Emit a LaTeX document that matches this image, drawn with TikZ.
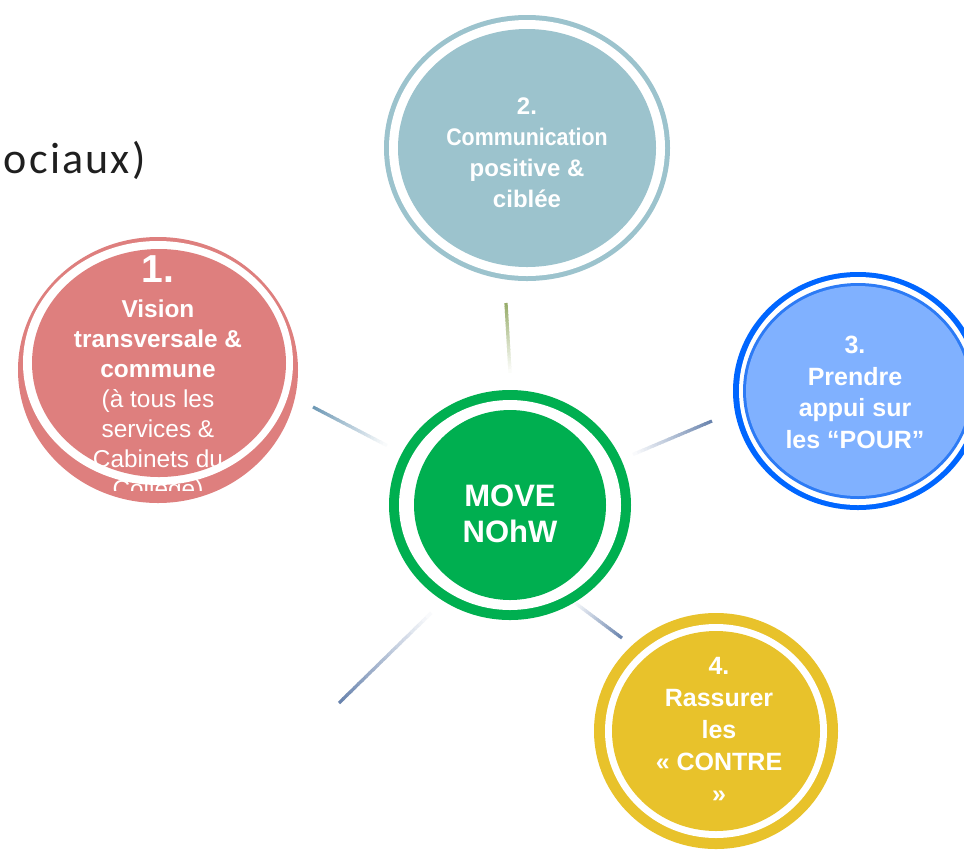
\documentclass[tikz,border=0pt]{standalone}
\usepackage{fontspec}
\usepackage{graphicx}
\setmainfont{Liberation Sans}
\newfontfamily\lightfont[LetterSpace=5]{Carlito}
\usetikzlibrary{calc,shapes.geometric}
\definecolor{cred}{HTML}{DE7F7E}
\definecolor{cteal}{HTML}{9CC3CD}
\definecolor{cblue}{HTML}{0066FF}
\definecolor{cblueL}{HTML}{80B1FF}
\definecolor{cblueB}{HTML}{2D7BF5}
\definecolor{cyel}{HTML}{E8C22B}
\definecolor{cgreen}{HTML}{00AF50}
\definecolor{spkG}{HTML}{98AD6B}
\definecolor{spkT}{HTML}{6E99B5}
\definecolor{spkB}{HTML}{6A84AE}
\tikzset{
  disc/.style={ellipse, inner sep=0pt, outer sep=0pt, draw=none},
  wtxt/.style={text=white, align=center, inner sep=0pt, outer sep=0pt},
  spoke/.style={line width=1.6pt, line cap=butt}
}
\begin{document}
\begin{tikzpicture}[x=0.5pt,y=-0.5pt]
\useasboundingbox (0,0) rectangle (964,853);
\fill[white] (0,0) rectangle (964,853);

% top-left partial title
\node[anchor=base east, inner sep=0pt, text=black!88, font=\lightfont\fontsize{22}{22}\selectfont] (title) at (146,173) {ociaux)};

% spokes
\coordinate (s1a) at (506,303); \coordinate (s1b) at (510,372);
\coordinate (s2a) at (313,407); \coordinate (s2b) at (386,445);
\coordinate (s3a) at (712,421); \coordinate (s3b) at (634,454);
\coordinate (s4a) at (622,638); \coordinate (s4b) at (574,602);
\coordinate (s5a) at (339,703); \coordinate (s5b) at (430,614);
\foreach \a/\b/\c in {s1a/s1b/spkG, s2a/s2b/spkT, s3a/s3b/spkB, s4a/s4b/spkB, s5a/s5b/spkB}{
  \foreach \i in {0,...,23}{
    \pgfmathtruncatemacro\pct{100-\i*100/24}
    \pgfmathsetmacro\ta{\i/24}
    \pgfmathsetmacro\tb{(\i+1.3)/24}
    \draw[spoke, \c!\pct!white] ($(\a)!\ta!(\b)$) -- ($(\a)!\tb!(\b)$);
  }
}

% circle 1
\node[disc, fill=cred, minimum width=140pt, minimum height=133pt] (c1o) at (158,370) {};
\node[disc, fill=white, minimum width=135pt, minimum height=122pt] (c1w) at (158,363) {};
\node[disc, fill=cred, minimum width=127pt, minimum height=114pt] (c1) at (159,363) {};
\node[wtxt, anchor=base, font=\fontsize{19.5}{19.5}\selectfont\bfseries] (c1n) at (158,282) {1.};
\begin{scope}
\clip (0,0) rectangle (964,490);
\node[wtxt, anchor=north, font=\fontsize{12.2}{15}\selectfont] (c1t) at (158,300)
  {\textbf{Vision}\\\textbf{transversale \&}\\\textbf{commune}\\(à tous les\\services \&\\Cabinets du\\Collège)};
\end{scope}

% circle 2
\node[disc, fill=cteal, minimum width=143pt, minimum height=133pt] (c2o) at (527,148) {};
\node[disc, fill=white, minimum width=138pt, minimum height=128pt] (c2w) at (527,148) {};
\node[disc, fill=cteal, minimum width=129pt, minimum height=119pt] (c2) at (527,148) {};
\node[wtxt, anchor=north, font=\fontsize{12}{15.5}\selectfont\bfseries] (c2t) at (527,98)
  {2.\\\scalebox{0.89}[1]{Communication}\\positive \&\\ciblée};

% circle 3
\node[disc, fill=cblue, minimum width=125pt, minimum height=119pt] (c3o) at (858,391) {};
\node[disc, fill=white, minimum width=119pt, minimum height=114pt] (c3w) at (858,391) {};
\node[disc, fill=cblueB, minimum width=115pt, minimum height=108pt] (c3b) at (858,391) {};
\node[disc, fill=cblueL, minimum width=112pt, minimum height=105pt] (c3) at (858,391) {};
\node[wtxt, anchor=north, font=\fontsize{12.5}{15.8}\selectfont\bfseries] (c3t) at (855,336)
  {3.\\Prendre\\appui sur\\les “POUR”};

% circle 4
\node[disc, fill=cyel, minimum width=122pt, minimum height=118pt] (c4o) at (716,731) {};
\node[disc, fill=white, minimum width=111pt, minimum height=107pt] (c4w) at (716,731) {};
\node[disc, fill=cyel, minimum width=104pt, minimum height=100pt] (c4) at (716,731) {};
\node[wtxt, anchor=north, font=\fontsize{12.5}{16}\selectfont\bfseries] (c4t) at (719,657)
  {4.\\Rassurer\\les\\« CONTRE\\»};

% centre
\node[disc, fill=cgreen, minimum width=121pt, minimum height=115pt] (c0o) at (510,505) {};
\node[disc, fill=white, minimum width=111pt, minimum height=105pt] (c0w) at (510,505) {};
\node[disc, fill=cgreen, minimum width=96pt, minimum height=95pt] (c0) at (510,505) {};
\node[wtxt, anchor=north, font=\fontsize{15.5}{18}\selectfont\bfseries] (c0t) at (510,485)
  {MOVE\\NOhW};
\end{tikzpicture}
\end{document}
